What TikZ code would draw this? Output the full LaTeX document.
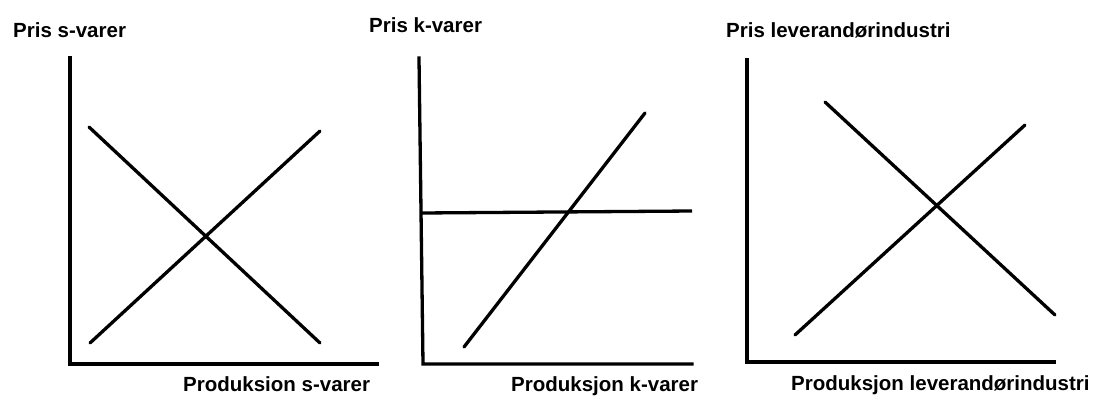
\documentclass[tikz,border=0pt]{standalone}
\usepackage{fontspec}
\setmainfont{Liberation Sans}
\begin{document}
\begin{tikzpicture}[x=1pt,y=-1pt,
  lbl/.style={inner sep=0pt,anchor=base west,font=\fontsize{20.5}{24}\selectfont\bfseries},
  axis/.style={line width=3.3pt,line cap=rect,line join=miter},
  curve/.style={line width=3.3pt,line cap=round}]
\useasboundingbox (0,0) rectangle (1098,397);
% panel 1
\coordinate (a1t) at (70,58);
\coordinate (a1o) at (70,364);
\coordinate (a1r) at (377,364);
\draw[axis] (a1t) -- (a1o) -- (a1r);
\coordinate (d1s) at (89,127);
\coordinate (d1e) at (320,343);
\coordinate (s1s) at (90,343);
\coordinate (s1e) at (320,131);
\draw[curve] (d1s) -- (d1e);
\draw[curve] (s1s) -- (s1e);
\node[lbl] (t1) at (13,37.5) {Pris s-varer};
\node[lbl] (b1) at (183,391.5) {Produksion s-varer};
% panel 2
\coordinate (a2t) at (419,58);
\coordinate (a2o) at (423,364);
\coordinate (a2r) at (692,364);
\draw[axis] (a2t) -- (a2o) -- (a2r);
\coordinate (h2s) at (421,213);
\coordinate (h2e) at (692,211);
\draw[line width=3.3pt] (h2s) -- (h2e);
\coordinate (s2s) at (464,347);
\coordinate (s2e) at (645,113);
\draw[curve] (s2s) -- (s2e);
\node[lbl] (t2) at (369,32) {Pris k-varer};
\node[lbl] (b2) at (511,391) {Produksjon k-varer};
% panel 3
\coordinate (a3t) at (747,60);
\coordinate (a3o) at (747,362);
\coordinate (a3r) at (1054,362);
\draw[axis] (a3t) -- (a3o) -- (a3r);
\coordinate (d3s) at (825,102);
\coordinate (d3e) at (1055,315);
\coordinate (s3s) at (795,335);
\coordinate (s3e) at (1025,125);
\draw[curve] (d3s) -- (d3e);
\draw[curve] (s3s) -- (s3e);
\node[lbl] (t3) at (726,37) {Pris leverandørindustri};
\node[lbl] (b3) at (791,390.5) {Produksjon leverandørindustri};
\end{tikzpicture}
\end{document}
